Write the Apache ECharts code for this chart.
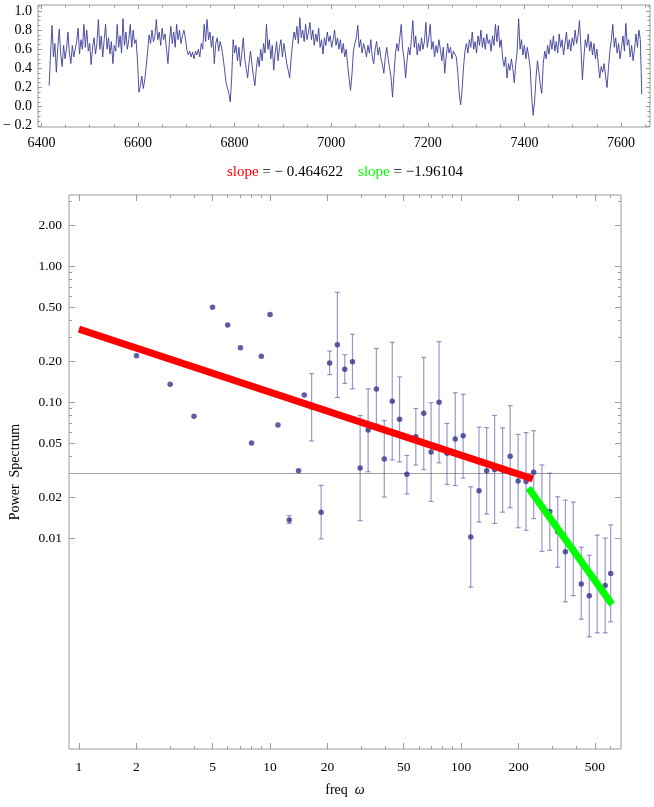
<!DOCTYPE html>
<html><head><meta charset="utf-8">
<script src="https://cdn.jsdelivr.net/npm/echarts@6/dist/echarts.min.js"></script>
<style>html,body{margin:0;padding:0;background:#fff}#c{width:654px;height:807px}</style>
</head><body><div id="c"></div>
<script>
// ---------- top light curve (uniformly sampled) ----------
const tsStart = 6416;
const tsStep = 3;
const tsValue = [
0.22,0.55,0.85,0.52,0.66,0.36,0.62,0.81,0.55,0.42,
0.64,0.50,0.60,0.78,0.56,0.45,0.64,0.52,0.60,0.68,
0.82,0.55,0.70,0.60,0.86,0.62,0.80,0.58,0.66,0.44,
0.62,0.72,0.55,0.66,0.91,0.60,0.74,0.52,0.70,0.86,
0.60,0.72,0.55,0.68,0.45,0.64,0.58,0.86,0.62,0.74,
0.56,0.92,0.64,0.78,0.60,0.70,0.86,0.62,0.80,0.66,
0.70,0.48,0.15,0.22,0.32,0.19,0.28,0.42,0.58,0.75,
0.66,0.80,0.68,0.74,0.91,0.70,0.78,0.64,0.82,0.70,
0.76,0.60,0.45,0.68,0.84,0.66,0.78,0.62,0.86,0.70,
0.80,0.66,0.74,0.80,0.72,0.60,0.54,0.58,0.52,0.57,
0.50,0.58,0.54,0.60,0.52,0.66,0.60,0.86,0.68,0.91,
0.70,0.78,0.62,0.74,0.45,0.66,0.72,0.58,0.68,0.62,
0.52,0.40,0.26,0.20,0.14,0.05,0.30,0.70,0.56,0.64,
0.48,0.62,0.42,0.56,0.72,0.50,0.40,0.30,0.46,0.58,
0.44,0.32,0.22,0.40,0.52,0.42,0.60,0.48,0.66,0.56,
0.86,0.60,0.70,0.50,0.64,0.38,0.56,0.68,0.48,0.62,
0.70,0.52,0.66,0.56,0.45,0.38,0.30,0.50,0.66,0.78,
0.70,0.84,0.66,0.93,0.72,0.80,0.68,0.86,0.70,0.78,
0.88,0.70,0.80,0.64,0.76,0.68,0.82,0.62,0.70,0.55,
0.72,0.64,0.78,0.68,0.74,0.62,0.70,0.80,0.64,0.72,
0.60,0.70,0.56,0.66,0.52,0.60,0.44,0.30,0.17,0.34,
0.58,0.66,0.72,0.85,0.62,0.70,0.56,0.66,0.60,0.52,
0.64,0.56,0.70,0.52,0.45,0.60,0.68,0.54,0.62,0.50,
0.44,0.35,0.52,0.62,0.50,0.40,0.30,0.10,0.34,0.56,
0.66,0.58,0.72,0.86,0.60,0.50,0.30,0.48,0.62,0.54,
0.70,0.90,0.62,0.74,0.54,0.66,0.58,0.72,0.60,0.68,
0.88,0.62,0.72,0.86,0.60,0.68,0.52,0.64,0.56,0.70,
0.60,0.48,0.62,0.35,0.52,0.66,0.56,0.62,0.50,0.58,
0.60,0.52,0.36,0.14,0.02,0.18,0.42,0.58,0.66,0.56,
0.70,0.62,0.78,0.60,0.68,0.56,0.74,0.64,0.80,0.62,
0.72,0.60,0.76,0.66,0.70,0.58,0.74,0.64,0.86,0.68,
0.85,0.62,0.70,0.50,0.42,0.52,0.30,0.45,0.38,0.50,
0.40,0.25,0.44,0.58,0.92,0.60,0.70,0.54,0.64,0.50,
0.62,0.52,0.40,0.10,-0.09,0.05,0.30,0.48,0.36,0.22,
0.14,0.45,0.58,0.50,0.64,0.55,0.70,0.60,0.74,0.58,
0.68,0.56,0.76,0.62,0.70,0.54,0.66,0.78,0.60,0.70,
0.58,0.72,0.64,0.80,0.66,0.74,0.90,0.62,0.28,0.50,
0.70,0.62,0.76,0.58,0.68,0.54,0.66,0.50,0.60,0.44,
0.30,0.42,0.36,0.45,0.32,0.20,0.40,0.58,0.70,0.86,
0.62,0.72,0.56,0.66,0.50,0.62,0.74,0.58,0.87,0.64,
0.70,0.52,0.64,0.48,0.60,0.76,0.62,0.80,0.70,0.13
];
const topXTicks = [6400,6600,6800,7000,7200,7400,7600];
const topXMinor = [6450,6500,6550,6650,6700,6750,6850,6900,6950,7050,7100,7150,7250,7300,7350,7450,7500,7550,7650];
const topYTicks = [-0.2,0,0.2,0.4,0.6,0.8,1.0];
const topYMinor = [-0.15,-0.1,-0.05,0.05,0.1,0.15,0.25,0.3,0.35,0.45,0.5,0.55,0.65,0.7,0.75,0.85,0.9,0.95,1.05];
const topXRange = [6393, 7660];
const topYRange = [-0.2125, 1.0625];

// ---------- bottom power spectrum ----------
const freq = [2,3,4,5,6,7,8,9,10,11,12.6,14.1,15.1,16.5,18.5,20.5,22.5,24.6,27.0,29.6,32.6,36.0,39.6,43.6,47.6,52.0,57.9,63.7,69.6,76.6,84.3,93.1,102.4,112.2,124,136,149.6,164.8,180.4,198.6,218.5,239.5,264.5,291,320,351,386,425,468,515,567,606];
const power = [0.219,0.135,0.0785,0.497,0.368,0.251,0.050,0.217,0.441,0.0677,0.01356,0.0313,0.1125,0.0918,0.01545,0.1935,0.264,0.174,0.198,0.0327,0.0622,0.1247,0.0381,0.1012,0.0746,0.0294,0.0556,0.0826,0.0429,0.0995,0.0420,0.0535,0.0565,0.01017,0.0223,0.0313,0.0319,0.0316,0.0399,0.0263,0.0260,0.0305,0.01663,0.01567,0.01111,0.00794,0.00832,0.00459,0.00377,0.00459,0.00448,0.00549];
const errLow = [null,null,null,null,null,null,null,null,null,null,0.0128,null,null,0.0517,0.00985,0.159,0.108,0.137,0.125,0.0134,0.0307,0.0688,0.0200,0.0375,0.0363,0.0211,0.0344,0.0318,0.0186,0.0357,0.0248,0.0243,0.0276,0.00435,0.0131,0.0150,0.0128,0.0155,0.0167,0.0119,0.0114,0.0139,0.00798,0.00812,0.00610,0.00339,0.00377,0.00253,0.00188,0.00201,0.00201,0.00242];
const errHigh = [null,null,null,null,null,null,null,null,null,null,0.0146,null,null,0.162,0.0244,0.237,0.641,0.223,0.315,0.0797,0.125,0.248,0.0731,0.275,0.153,0.0405,0.0897,0.213,0.0988,0.278,0.0697,0.117,0.114,0.0238,0.0654,0.0649,0.0797,0.0646,0.0940,0.0578,0.0596,0.0615,0.0345,0.0300,0.0201,0.0190,0.0184,0.00856,0.00747,0.0105,0.00998,0.0125];
const redFitX = [1, 237];
const redFitY = [0.344, 0.0272];
const greenFitX = [225, 616];
const greenFitY = [0.0233, 0.00325];
const noiseLevel = 0.0272;
const slopeRed = '− 0.464622';
const slopeGreen = '−1.96104';
const freqTicks = [1,2,5,10,20,50,100,200,500];
const freqMinor = [3,4,6,7,8,9,30,40,60,70,80,90,300,400,600];
const powerTicks = [0.01,0.02,0.05,0.1,0.2,0.5,1,2];
const powerMinor = [0.03,0.04,0.06,0.07,0.08,0.09,0.3,0.4,0.6,0.7,0.8,0.9,3];
const freqRange = [0.887, 686];
const powerRange = [2.81e-4, 3.33];

// ---------- styling ----------
const serif = '"Liberation Serif", "Times New Roman", serif';
const frameColor = '#9a9a9a';
const L = Math.log10;

function tickAxis(gridIndex, position, min, max, ticks, len, label) {
  return {
    type: 'value', gridIndex, position, min, max,
    axisLine: {show: false, onZero: false},
    splitLine: {show: false},
    axisTick: {show: true, inside: true, length: len, customValues: ticks,
               lineStyle: {color: frameColor, width: 1}},
    axisLabel: label ? Object.assign({show: true, customValues: ticks, fontFamily: serif,
               fontSize: 14, color: '#000'}, label) : {show: false},
    z: 5
  };
}

const fmtFreq = v => String(Math.round(Math.pow(10, v)));
const fmtPow = v => Math.pow(10, v).toFixed(2);
const fmtTopY = v => (v < -1e-9 ? '\u2212 ' + Math.abs(v).toFixed(1) : Math.abs(v).toFixed(1));
const fmtTopX = v => String(Math.round(v));

const lfx = freqRange.map(L), lfy = powerRange.map(L);
const fT = freqTicks.map(L), fM = freqMinor.map(L), pT = powerTicks.map(L), pM = powerMinor.map(L);

const xAxes = [
  tickAxis(0, 'bottom', topXRange[0], topXRange[1], topXTicks, 4, {formatter: fmtTopX, margin: 9}),
  tickAxis(0, 'bottom', topXRange[0], topXRange[1], topXMinor, 2.5, null),
  tickAxis(0, 'top', topXRange[0], topXRange[1], topXTicks, 4, null),
  tickAxis(0, 'top', topXRange[0], topXRange[1], topXMinor, 2.5, null),
  {type: 'log', gridIndex: 1, min: freqRange[0], max: freqRange[1], show: false, logBase: 10},
  tickAxis(1, 'bottom', lfx[0], lfx[1], fT, 6, {formatter: fmtFreq, margin: 11, fontSize: 13.5}),
  tickAxis(1, 'bottom', lfx[0], lfx[1], fM, 3, null),
  tickAxis(1, 'top', lfx[0], lfx[1], fT, 6, null),
  tickAxis(1, 'top', lfx[0], lfx[1], fM, 3, null)
];
xAxes[5].name = 'freq  {i|ω}';
xAxes[5].nameLocation = 'middle';
xAxes[5].nameGap = 34;
xAxes[5].nameTextStyle = {fontFamily: serif, fontSize: 14, color: '#000',
  rich: {i: {fontFamily: serif, fontStyle: 'italic', fontSize: 14, color: '#000'}}};

const yAxes = [
  tickAxis(0, 'left', topYRange[0], topYRange[1], topYTicks, 4, {formatter: fmtTopY, margin: 6}),
  tickAxis(0, 'left', topYRange[0], topYRange[1], topYMinor, 2.5, null),
  tickAxis(0, 'right', topYRange[0], topYRange[1], topYTicks, 4, null),
  tickAxis(0, 'right', topYRange[0], topYRange[1], topYMinor, 2.5, null),
  {type: 'log', gridIndex: 1, min: powerRange[0], max: powerRange[1], show: false, logBase: 10},
  tickAxis(1, 'left', lfy[0], lfy[1], pT, 6, {formatter: fmtPow, margin: 7, fontSize: 13.5}),
  tickAxis(1, 'left', lfy[0], lfy[1], pM, 3, null),
  tickAxis(1, 'right', lfy[0], lfy[1], pT, 6, null),
  tickAxis(1, 'right', lfy[0], lfy[1], pM, 3, null)
];
yAxes[5].name = 'Power  Spectrum';
yAxes[5].nameLocation = 'middle';
yAxes[5].nameGap = 47;
yAxes[5].nameTextStyle = {fontFamily: serif, fontSize: 14, color: '#000'};

const errData = freq.map((f, i) => [f, errLow[i], errHigh[i]]).filter(d => d[1] != null);
const tsData = tsValue.map((v, i) => [tsStart + i * tsStep, v]);

const option = {
  animation: false,
  backgroundColor: '#fff',
  title: {
    text: '{r|slope}{b| = ' + slopeRed + '}    {g|slope}{b| = ' + slopeGreen + '}',
    left: 222, top: 160,
    textStyle: {
      fontFamily: serif, fontSize: 15, fontWeight: 'normal',
      rich: {
        r: {fontFamily: serif, fontSize: 15, color: '#ff0000'},
        g: {fontFamily: serif, fontSize: 15, color: '#00ff00'},
        b: {fontFamily: serif, fontSize: 15, color: '#000'}
      }
    }
  },
  grid: [
    {left: 38, right: 4, top: 5, bottom: 680, show: true, borderColor: frameColor, borderWidth: 1, backgroundColor: 'transparent'},
    {left: 65, right: 33, top: 195, bottom: 58, show: true, borderColor: frameColor, borderWidth: 1, backgroundColor: 'transparent'}
  ],
  xAxis: xAxes,
  yAxis: yAxes,
  series: [
    {
      type: 'line', xAxisIndex: 0, yAxisIndex: 0, showSymbol: false,
      data: tsData,
      lineStyle: {color: '#3d3d99', width: 0.9}, silent: true, z: 3
    },
    {
      type: 'custom', xAxisIndex: 4, yAxisIndex: 4, data: errData, silent: true, z: 2,
      renderItem: function (params, api) {
        const x = api.value(0);
        const p1 = api.coord([x, api.value(1)]);
        const p2 = api.coord([x, api.value(2)]);
        const w = 2.5;
        const st = {stroke: 'rgba(70,70,160,0.55)', lineWidth: 1.2};
        return {type: 'group', children: [
          {type: 'line', shape: {x1: p1[0], y1: p1[1], x2: p2[0], y2: p2[1]}, style: st},
          {type: 'line', shape: {x1: p1[0] - w, y1: p1[1], x2: p1[0] + w, y2: p1[1]}, style: st},
          {type: 'line', shape: {x1: p2[0] - w, y1: p2[1], x2: p2[0] + w, y2: p2[1]}, style: st}
        ]};
      }
    },
    {
      type: 'scatter', xAxisIndex: 4, yAxisIndex: 4, symbol: 'circle', symbolSize: 5.5,
      data: freq.map((f, i) => [f, power[i]]),
      itemStyle: {color: '#34348f'}, silent: true, z: 3,
      markLine: {
        silent: true, symbol: 'none', label: {show: false}, z: 1,
        lineStyle: {color: '#a0a0a0', width: 1.2, type: 'solid'},
        data: [{yAxis: noiseLevel}]
      }
    },
    {
      type: 'line', xAxisIndex: 4, yAxisIndex: 4, showSymbol: false, silent: true, z: 4,
      data: redFitX.map((x, i) => [x, redFitY[i]]),
      lineStyle: {color: '#ff0000', width: 7, cap: 'butt'}
    },
    {
      type: 'line', xAxisIndex: 4, yAxisIndex: 4, showSymbol: false, silent: true, z: 4,
      data: greenFitX.map((x, i) => [x, greenFitY[i]]),
      lineStyle: {color: '#00ff00', width: 7, cap: 'butt'}
    }
  ]
};

const chart = echarts.init(document.getElementById('c'), null, {renderer: 'canvas'});
chart.setOption(option);
</script>
</body></html>
